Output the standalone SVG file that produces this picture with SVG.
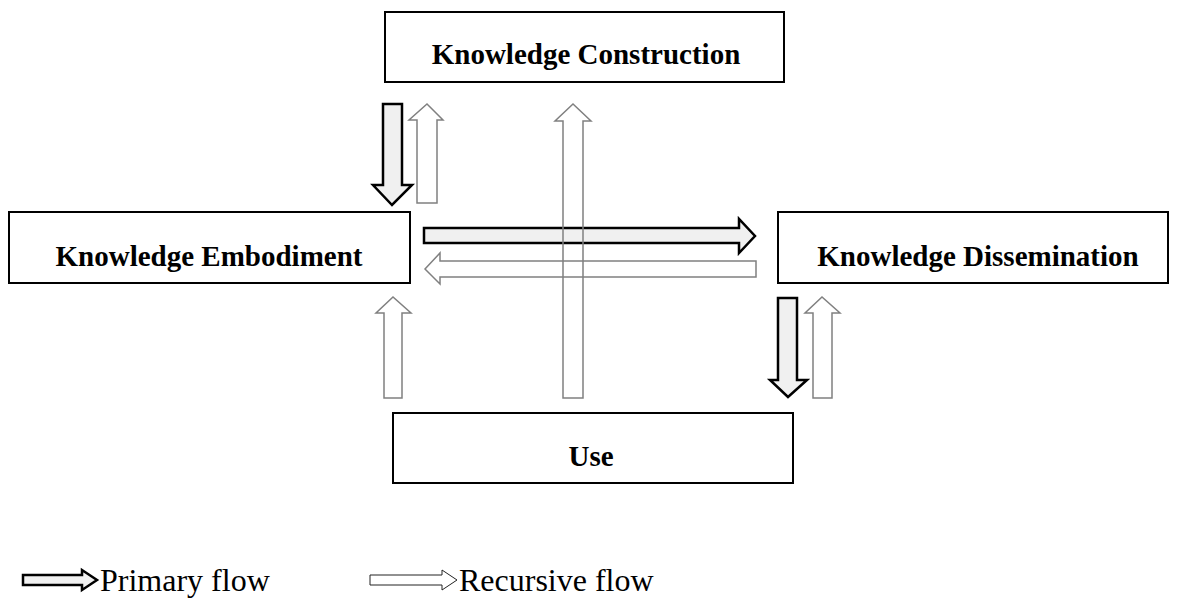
<svg xmlns="http://www.w3.org/2000/svg" width="1178" height="601" viewBox="0 0 1178 601">
<style>
.box{fill:#fff;stroke:#000;stroke-width:2}
.lbl{font-family:"Liberation Serif","Times New Roman",serif;font-weight:bold;font-size:29px;fill:#000;text-anchor:middle}
.leg{font-family:"Liberation Serif","Times New Roman",serif;font-size:32px;fill:#000}
.pri{fill:#f0f0f0;stroke:#000;stroke-width:2.5;stroke-linejoin:miter}
.rec{fill:#fff;stroke:#808080;stroke-width:1.5}
.recn{fill:none;stroke:#808080;stroke-width:1.5}
.recl{fill:#fff;stroke:#222;stroke-width:1}
</style>
<rect width="1178" height="601" fill="#fff"/>
<g id="connectors">
<polygon class="pri" points="383,104 402,104 402,185 412,185 392,205 373,185 383,185"/>
<polygon class="rec" points="417,203 437,203 437,120 443,120 427,104 409,120 417,120"/>
<polygon class="pri" points="424,228 739,228 739,219 755,236 739,253 739,243 424,243"/>
<polygon class="rec" points="756,261 440,261 440,253 425,269 440,284 440,277 756,277"/>
<polygon class="recn" points="563,398 583,398 583,121 591,121 573,104 555,121 563,121"/>
<polygon class="rec" points="384,398 402,398 402,313 411,313 393,297 376,313 384,313"/>
<polygon class="pri" points="778,298 797,298 797,380 807,380 788,397 770,380 778,380"/>
<polygon class="rec" points="813,398 832,398 832,313 840,313 822,297 805,313 813,313"/>
</g>
<g id="node-construction">
<rect class="box" x="385" y="12" width="399" height="70"/>
<text class="lbl" x="586" y="64">Knowledge Construction</text>
</g>
<g id="node-embodiment">
<rect class="box" x="9" y="212" width="401" height="71"/>
<text class="lbl" x="209" y="266">Knowledge Embodiment</text>
</g>
<g id="node-dissemination">
<rect class="box" x="778" y="212" width="390" height="71"/>
<text class="lbl" x="978" y="266">Knowledge Dissemination</text>
</g>
<g id="node-use">
<rect class="box" x="393" y="413" width="400" height="70"/>
<text class="lbl" x="591" y="466">Use</text>
</g>
<g id="legend">
<polygon class="pri" points="23,575 82,575 82,570 97,580 82,590 82,585 23,585"/>
<text class="leg" x="100" y="591">Primary flow</text>
<polygon class="recl" points="370,575 442,575 442,570 457,580 442,590 442,585 370,585"/>
<text class="leg" x="459" y="591">Recursive flow</text>
</g>
</svg>
